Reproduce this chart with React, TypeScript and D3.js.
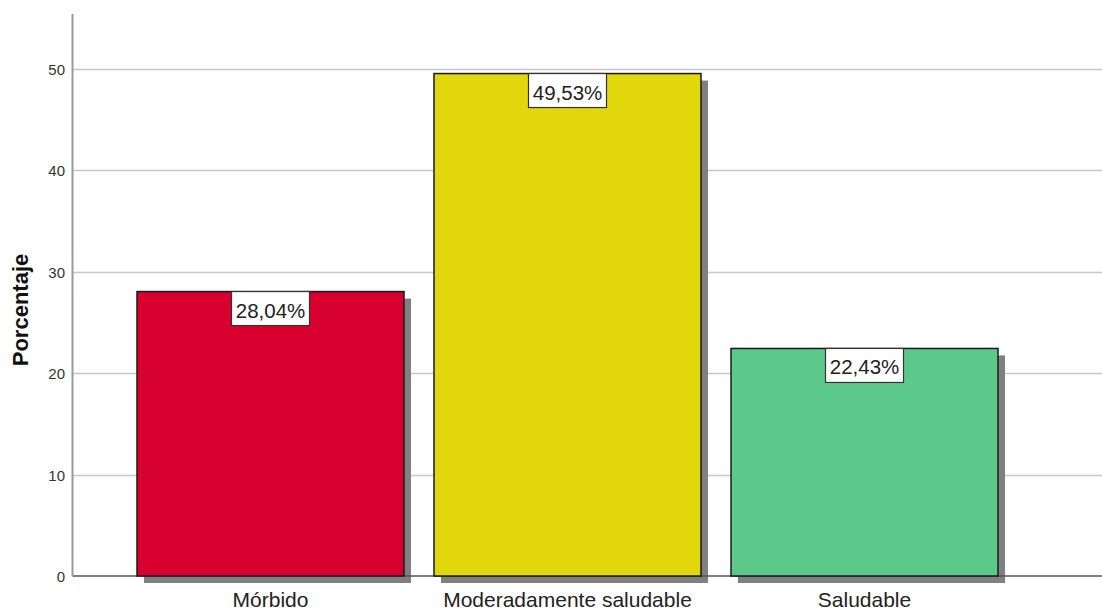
import React from "react";
import * as d3 from "d3";

const categories = ["Mórbido", "Moderadamente saludable", "Saludable"];
const percentages = [28.04, 49.53, 22.43];
const barColors = ["#D7002F", "#E2D60C", "#5CC98A"];
const yTicks = [0, 10, 20, 30, 40, 50];
const yTitle = "Porcentaje";

const W = 1102;
const H = 610;
const axisX = 72.5;
const baseY = 576;
const topY = 14;

export default function App() {
  const x = d3
    .scaleBand<string>()
    .domain(categories)
    .range([122, 1013])
    .paddingInner(30 / 297)
    .paddingOuter(15 / 297);
  const y = d3.scaleLinear().domain([0, 55.4]).range([baseY, topY]);
  const bw = x.bandwidth();
  const shadow = 7;
  const fmt = (v: number) => v.toFixed(2).replace(".", ",") + "%";

  return (
    <svg
      width={W}
      height={H}
      style={{ position: "absolute", left: 0, top: 0, background: "#fff" }}
      fontFamily="'Liberation Sans', Arial, sans-serif"
    >
      {/* gridlines */}
      {yTicks
        .filter((t) => t > 0)
        .map((t) => (
          <line
            key={t}
            x1={axisX}
            x2={W}
            y1={Math.round(y(t)) + 0.5}
            y2={Math.round(y(t)) + 0.5}
            stroke="#c8c8c8"
            strokeWidth={1.5}
          />
        ))}
      {/* tick labels */}
      {yTicks.map((t) => (
        <text
          key={t}
          x={65}
          y={y(t) + 2}
          textAnchor="end"
          dominantBaseline="middle"
          fontSize={15}
          fill="#333"
        >
          {t}
        </text>
      ))}
      {/* bar shadows */}
      {categories.map((c, i) => (
        <rect
          key={"s" + c}
          x={x(c)! + shadow}
          y={y(percentages[i]) + shadow}
          width={bw}
          height={baseY - y(percentages[i])}
          fill="#808080"
        />
      ))}
      {/* baseline */}
      <line x1={axisX} x2={W} y1={baseY} y2={baseY} stroke="#555" strokeWidth={1.5} />
      {/* bars */}
      {categories.map((c, i) => (
        <rect
          key={"b" + c}
          x={x(c)!}
          y={y(percentages[i])}
          width={bw}
          height={baseY - y(percentages[i])}
          fill={barColors[i]}
          stroke="#1a1a1a"
          strokeWidth={1.5}
        />
      ))}
      {/* value labels */}
      {categories.map((c, i) => {
        const cx = x(c)! + bw / 2;
        const top = y(percentages[i]);
        const boxW = 78;
        return (
          <g key={"l" + c}>
            <rect
              x={cx - boxW / 2}
              y={top}
              width={boxW}
              height={34}
              fill="#fff"
              stroke="#333"
              strokeWidth={1.2}
            />
            <text x={cx} y={top + 26} textAnchor="middle" fontSize={20.5} fill="#222">
              {fmt(percentages[i])}
            </text>
          </g>
        );
      })}
      {/* y axis line */}
      <line x1={axisX} x2={axisX} y1={topY} y2={baseY} stroke="#999" strokeWidth={2} />
      {/* category labels */}
      {categories.map((c) => (
        <text
          key={"c" + c}
          x={x(c)! + bw / 2}
          y={607}
          textAnchor="middle"
          fontSize={21}
          fill="#222"
        >
          {c}
        </text>
      ))}
      {/* y axis title */}
      <text
        transform={`translate(27.5,310) rotate(-90)`}
        textAnchor="middle"
        fontSize={22}
        fontWeight="bold"
        fill="#111"
      >
        {yTitle}
      </text>
    </svg>
  );
}
